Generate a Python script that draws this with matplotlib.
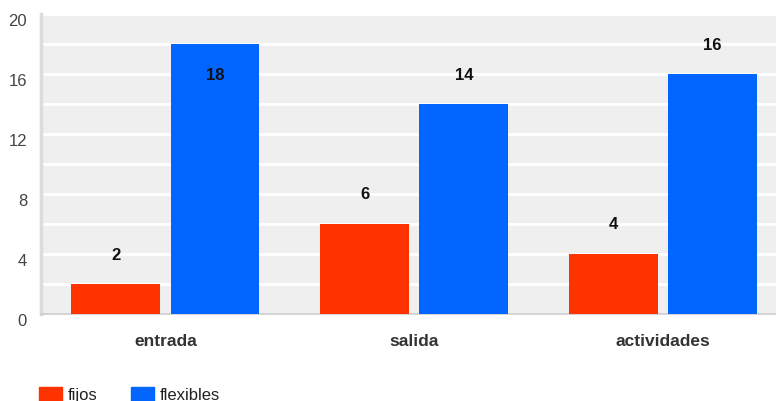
import numpy as np
import matplotlib.pyplot as plt
import matplotlib.transforms as mtransforms
from matplotlib.patches import Rectangle

plt.rcParams['font.family'] = ['Liberation Sans', 'DejaVu Sans']

# categories and the two series
categorias = ['entrada', 'salida', 'actividades']
fijos = [2, 6, 4]
flexibles = [18, 14, 16]
series_names = ['fijos', 'flexibles']
colors = ['#ff3300', '#0066ff']
y_ticks = [0, 4, 8, 12, 16, 20]

fig = plt.figure(figsize=(7.76, 4.02), dpi=100)
ax = fig.add_axes([41 / 776, 87 / 402, 746.5 / 776, 300 / 402])
ax.set_facecolor('#efefef')

x = np.arange(len(categorias))
w = 0.357
off = 0.199

ax.bar(x - off, fijos, width=w, color=colors[0], zorder=3)
ax.bar(x + off, flexibles, width=w, color=colors[1], zorder=3)

# value labels: above the bar, or inside when there is no room at the top
for xs, vals in ((x - off, fijos), (x + off, flexibles)):
    for xi, v in zip(xs, vals):
        ypos = v + 2 if v + 2 < 19.5 else v - 2
        ax.text(xi, ypos, str(v), ha='center', va='center', fontsize=12,
                fontweight='bold', color='#111111', zorder=4)

ax.set_xlim(-0.5, 2.5)
ax.set_ylim(0, 20)
ax.set_yticks(y_ticks)
ax.set_yticks(np.arange(0, 21, 2), minor=True)
ax.grid(True, which='both', axis='y', color='white', lw=2, zorder=1)
ax.tick_params(axis='y', which='both', length=0, pad=10, labelsize=12,
               labelcolor='#444444')
# y labels sit a little below their gridlines
shift = mtransforms.ScaledTranslation(0, -5 / 100, fig.dpi_scale_trans)
for lbl in ax.get_yticklabels():
    lbl.set_transform(lbl.get_transform() + shift)

ax.set_xticks(x)
ax.set_xticklabels(categorias, fontsize=12.5, fontweight='bold', color='#333333')
ax.tick_params(axis='x', length=0, pad=14)

for s in ('top', 'right'):
    ax.spines[s].set_visible(False)
ax.spines['left'].set_color('#dcdcdc')
ax.spines['left'].set_linewidth(2.5)
ax.spines['bottom'].set_color('#cccccc')
ax.spines['bottom'].set_linewidth(1.2)

# legend along the bottom edge
leg_x = [39, 131]
for lx, name, c in zip(leg_x, series_names, colors):
    fig.patches.append(Rectangle((lx / 776, -4 / 402), 23 / 776, 18 / 402,
                                 transform=fig.transFigure, color=c))
    fig.text((lx + 29) / 776, 6 / 402, name, fontsize=12, color='#222222',
             va='center', ha='left')

fig.savefig('out.png', dpi=100)
